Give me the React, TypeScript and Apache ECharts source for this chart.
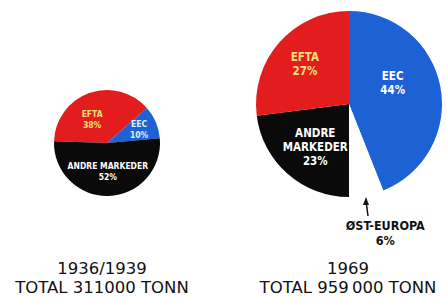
import React, { useEffect, useRef } from "react";
import * as echarts from "echarts";

const leftNames = ["EFTA", "EEC", "ANDRE MARKEDER"];
const leftValues = [38, 10, 52];
const rightNames = ["EEC", "ØST-EUROPA", "ANDRE\nMARKEDER", "EFTA"];
const rightValues = [44, 6, 23, 27];
const periodLabels = ["1936/1939", "1969"];
const totalLabels = ["TOTAL 311000 TONN", "TOTAL 959\u2009000 TONN"];

const RED = "#e31d1e";
const BLUE = "#1d62d4";
const BLACK = "#0a0a0a";
const YELLOW = "#f2e07a";

const labelFont = {
  fontFamily: "DejaVu Sans Condensed",
  fontWeight: "bold" as const,
};

const titleStyle = {
  fontFamily: "DejaVu Sans",
  fontWeight: "normal" as const,
  fontSize: 16.5,
  lineHeight: 16.5,
  color: "#111111",
};

export default function App() {
  const ref = useRef<HTMLDivElement>(null);
  useEffect(() => {
    if (!ref.current) return;
    const chart = echarts.init(ref.current, undefined, { renderer: "svg" });
    const leftStyles = [
      { color: RED, label: YELLOW, offset: [-5, 4] },
      { color: BLUE, label: "#e4ecf8", offset: [5, -2] },
      { color: BLACK, label: "#ffffff", offset: [0, -1] },
    ];
    const rightStyles = [
      { color: BLUE, label: "#ffffff", offset: [-5, -12], size: 11.5, lh: 14 },
      { color: "#ffffff", label: "#111111", offset: [27, 80], size: 12.5, lh: 15 },
      { color: BLACK, label: "#ffffff", offset: [-1, 6], size: 11.5, lh: 14 },
      { color: RED, label: YELLOW, offset: [-7, -7], size: 11.5, lh: 14 },
    ];
    const centersX = [102, 348];
    const titles: any[] = [];
    [0, 1].forEach((i) => {
      titles.push({
        text: periodLabels[i],
        left: centersX[i],
        top: 260,
        padding: 0,
        textAlign: "center",
        textStyle: titleStyle,
      });
      titles.push({
        text: totalLabels[i],
        left: centersX[i],
        top: 279.5,
        padding: 0,
        textAlign: "center",
        textStyle: titleStyle,
      });
    });
    chart.setOption({
      animation: false,
      backgroundColor: "#ffffff",
      title: titles,
      series: [
        {
          type: "pie",
          center: [107, 143],
          radius: 53,
          startAngle: 178,
          clockwise: true,
          silent: true,
          label: {
            show: true,
            position: "inside",
            formatter: (p: any) => p.name + "\n" + p.value + "%",
            ...labelFont,
            fontSize: 8.5,
            lineHeight: 11,
          },
          labelLine: { show: false },
          data: leftValues.map((v, i) => ({
            name: leftNames[i],
            value: v,
            itemStyle: { color: leftStyles[i].color },
            label: { color: leftStyles[i].label, offset: leftStyles[i].offset },
          })),
        },
        {
          type: "pie",
          center: [349, 104],
          radius: 93,
          startAngle: 90,
          clockwise: true,
          silent: true,
          label: {
            show: true,
            position: "inside",
            formatter: (p: any) => p.name + "\n" + p.value + "%",
            ...labelFont,
            fontSize: 11.5,
            lineHeight: 14,
          },
          labelLine: { show: false },
          data: rightValues.map((v, i) => ({
            name: rightNames[i],
            value: v,
            itemStyle: { color: rightStyles[i].color },
            label: {
              color: rightStyles[i].label,
              offset: rightStyles[i].offset,
              fontSize: rightStyles[i].size,
              lineHeight: rightStyles[i].lh,
            },
          })),
        },
      ],
      graphic: [
        {
          type: "line",
          shape: { x1: 368, y1: 216, x2: 366, y2: 201 },
          style: { stroke: "#111", lineWidth: 1.5 },
        },
        {
          type: "polygon",
          shape: { points: [[366, 197], [363, 205], [369, 205]] },
          style: { fill: "#111" },
        },
      ],
    });
    return () => chart.dispose();
  }, []);
  return (
    <div
      ref={ref}
      style={{ position: "fixed", left: 0, top: 0, width: 447, height: 297 }}
    />
  );
}
